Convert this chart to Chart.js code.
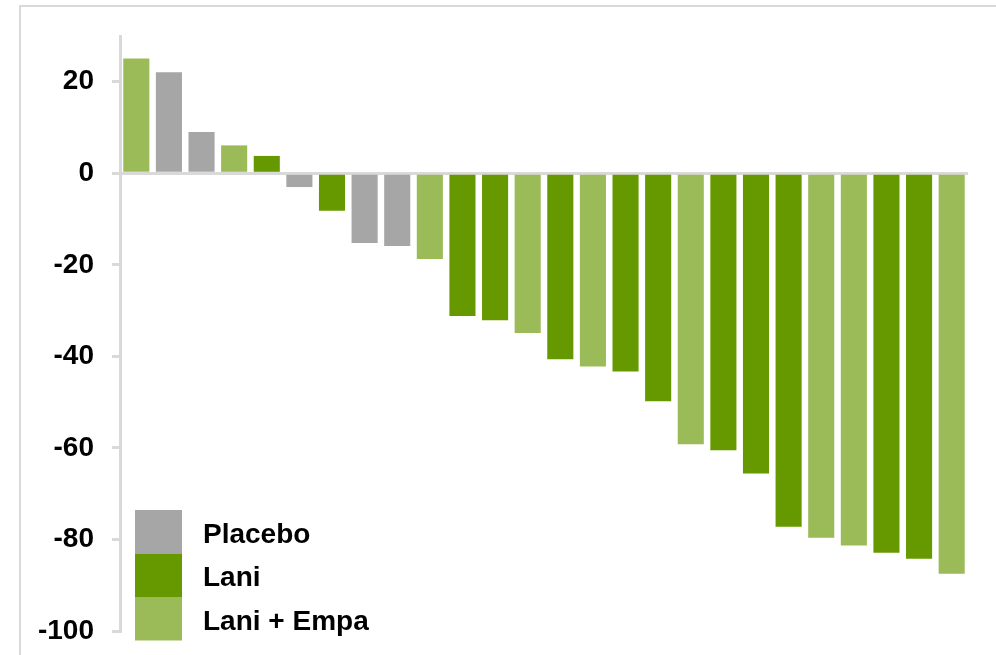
<!DOCTYPE html>
<html>
<head>
<meta charset="utf-8">
<script src="https://cdn.jsdelivr.net/npm/chart.js@4/dist/chart.umd.min.js"></script>
<style>
  html, body { margin: 0; padding: 0; background: #fff; }
  #wrap { position: relative; width: 996px; height: 655px; }
  #frame { position: absolute; left: 19px; top: 5px; right: 0; bottom: 0;
           border-top: 2px solid #d9d9d9; border-left: 2px solid #d9d9d9; }
  canvas { position: absolute; left: 0; top: 0; }
</style>
</head>
<body>
<div id="wrap">
  <div id="frame"></div>
  <canvas id="chart" width="996" height="655"></canvas>
</div>
<script>
// one bar per patient, sorted by change
const patients = Array.from({ length: 26 }, (_, i) => 'P' + (i + 1));
const changes = [25.1, 22.1, 9.0, 6.1, 3.8, -3.0, -8.2, -15.2, -15.9, -18.7,
  -31.2, -32.1, -34.9, -40.6, -42.2, -43.3, -49.8, -59.2, -60.5, -65.6,
  -77.2, -79.6, -81.3, -82.9, -84.2, -87.5];
const groups = ['Lani + Empa', 'Placebo', 'Placebo', 'Lani + Empa', 'Lani', 'Placebo', 'Lani', 'Placebo', 'Placebo', 'Lani + Empa',
  'Lani', 'Lani', 'Lani + Empa', 'Lani', 'Lani + Empa', 'Lani', 'Lani', 'Lani + Empa', 'Lani', 'Lani',
  'Lani', 'Lani + Empa', 'Lani + Empa', 'Lani', 'Lani', 'Lani + Empa'];
const legendNames = ['Placebo', 'Lani', 'Lani + Empa'];
const yTicks = [20, 0, -20, -40, -60, -80, -100];

const colors = { 'Placebo': '#a6a6a6', 'Lani': '#669900', 'Lani + Empa': '#9bbb59' };
const axisGray = '#d9d9d9';
const font = { family: '"Liberation Sans", Arial, sans-serif', size: 28, weight: 'bold' };

// legend sits inside the plot, bottom left, boxes stacked
const boxLegend = {
  id: 'boxLegend',
  afterDraw(chart) {
    const ctx = chart.ctx;
    const x = chart.chartArea.left + 15;
    let y = 510;
    ctx.save();
    ctx.font = 'bold 28px "Liberation Sans", Arial, sans-serif';
    ctx.textBaseline = 'middle';
    legendNames.forEach(name => {
      ctx.fillStyle = colors[name];
      ctx.fillRect(x, y, 47, 43.5);
      ctx.fillStyle = '#000';
      ctx.fillText(name, 203, y + 25);
      y += 43.5;
    });
    ctx.restore();
  }
};

new Chart(document.getElementById('chart'), {
  type: 'bar',
  data: {
    labels: patients,
    datasets: [{
      data: changes,
      backgroundColor: groups.map(g => colors[g]),
      barPercentage: 0.8,
      categoryPercentage: 1.0
    }]
  },
  options: {
    responsive: false,
    animation: false,
    layout: { padding: { top: 36, right: 28, bottom: 24, left: 0 } },
    plugins: { legend: { display: false }, tooltip: { enabled: false } },
    scales: {
      x: { display: false },
      y: {
        min: -100,
        max: 30,
        afterBuildTicks: scale => { scale.ticks = yTicks.map(v => ({ value: v })); },
        afterFit: scale => {
          scale.width = 120;
          // tick padding would otherwise push the plot up; layout padding decides
          scale.paddingTop = 0;
          scale.paddingBottom = 0;
        },
        grid: {
          // only the zero line crosses the plot; every tick mark stays gray
          color: c => (c.tick && c.tick.value === 0 ? axisGray : 'rgba(0,0,0,0)'),
          tickColor: axisGray,
          lineWidth: 3,
          tickLength: 8,
          z: -1
        },
        border: { display: true, color: axisGray, width: 3 },
        ticks: { color: '#000', font: font, padding: 18 }
      }
    }
  },
  plugins: [boxLegend]
});
</script>
</body>
</html>
